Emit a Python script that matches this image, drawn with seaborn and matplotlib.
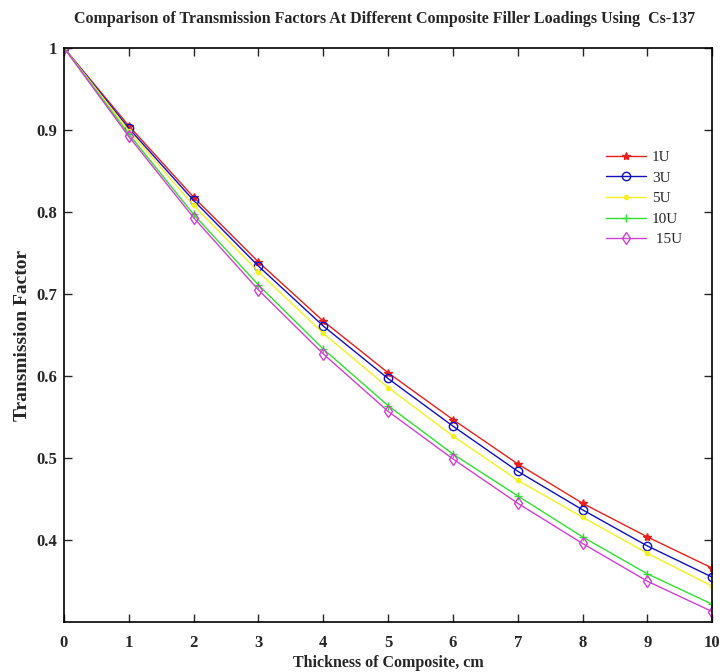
import pandas as pd
import matplotlib
matplotlib.use("Agg")
import matplotlib.pyplot as plt
import seaborn as sns

# thickness of composite, cm
thickness = [0, 1, 2, 3, 4, 5, 6, 7, 8, 9, 10]

# transmission factor for each filler loading
tf_1u = [1.0, 0.905, 0.818, 0.739, 0.667, 0.604, 0.547, 0.493, 0.445, 0.404, 0.366]
tf_3u = [1.0, 0.902, 0.814, 0.734, 0.661, 0.597, 0.539, 0.484, 0.437, 0.393, 0.355]
tf_5u = [1.0, 0.899, 0.808, 0.727, 0.652, 0.586, 0.527, 0.473, 0.428, 0.384, 0.344]
tf_10u = [1.0, 0.895, 0.797, 0.711, 0.633, 0.564, 0.505, 0.454, 0.404, 0.359, 0.322]
tf_15u = [1.0, 0.892, 0.793, 0.705, 0.627, 0.557, 0.499, 0.445, 0.396, 0.350, 0.313]

labels = ["1U", "3U", "5U", "10U", " 15U"]
colors = ["#e8201c", "#1010c0", "#f5f020", "#30e030", "#d040d0"]
markers = ["*", "o", ".", "+", "d"]


def main():
    sns.set_style("ticks")
    plt.rcParams["font.family"] = ["Liberation Serif", "DejaVu Serif"]

    fig = plt.figure(figsize=(7.26, 6.72), dpi=100)
    ax = fig.add_axes([0.088, 0.074, 0.893, 0.855])

    series = [tf_1u, tf_3u, tf_5u, tf_10u, tf_15u]
    for lab, vals, c, m in zip(labels, series, colors, markers):
        df = pd.DataFrame({"thickness": thickness, "tf": vals})
        face = c if m in ("*", ".") else "none"
        sns.lineplot(data=df, x="thickness", y="tf", ax=ax, color=c, label=lab,
                     marker=m, markersize=6, markeredgewidth=1.0,
                     markerfacecolor=face, markeredgecolor=c, linewidth=1.0)

    ax.set_xlim(0, 10)
    ax.set_ylim(0.3, 1.0)
    ax.set_xticks(thickness)
    ax.set_yticks([0.4, 0.5, 0.6, 0.7, 0.8, 0.9, 1.0])
    ax.set_yticklabels(["0.4", "0.5", "0.6", "0.7", "0.8", "0.9", "1"])
    ax.tick_params(direction="in", top=True, right=True, length=6, width=1,
                   labelsize=12)
    ax.tick_params(axis="x", pad=9)
    ax.tick_params(axis="y", pad=5)
    for lab in ax.get_xticklabels() + ax.get_yticklabels():
        lab.set_fontweight("bold")
    for sp in ax.spines.values():
        sp.set_linewidth(1.2)
        sp.set_color("black")

    ax.set_xlabel("Thickness of Composite, cm", fontsize=11.5, fontweight="bold",
                  labelpad=3)
    ax.set_ylabel("Transmission Factor", fontsize=14, fontweight="bold",
                  labelpad=4)
    fig.suptitle("Comparison of Transmission Factors At Different Composite "
                 "Filler Loadings Using  Cs-137", x=0.53, y=0.983,
                 fontsize=11.5, fontweight="bold")

    ax.legend(loc="upper right", bbox_to_anchor=(0.975, 0.845),
              frameon=False, fontsize=11, handlelength=2.6, labelspacing=0.45,
              handletextpad=0.4)

    fig.savefig("out.png", dpi=100, facecolor="white")


if __name__ == "__main__":
    main()
